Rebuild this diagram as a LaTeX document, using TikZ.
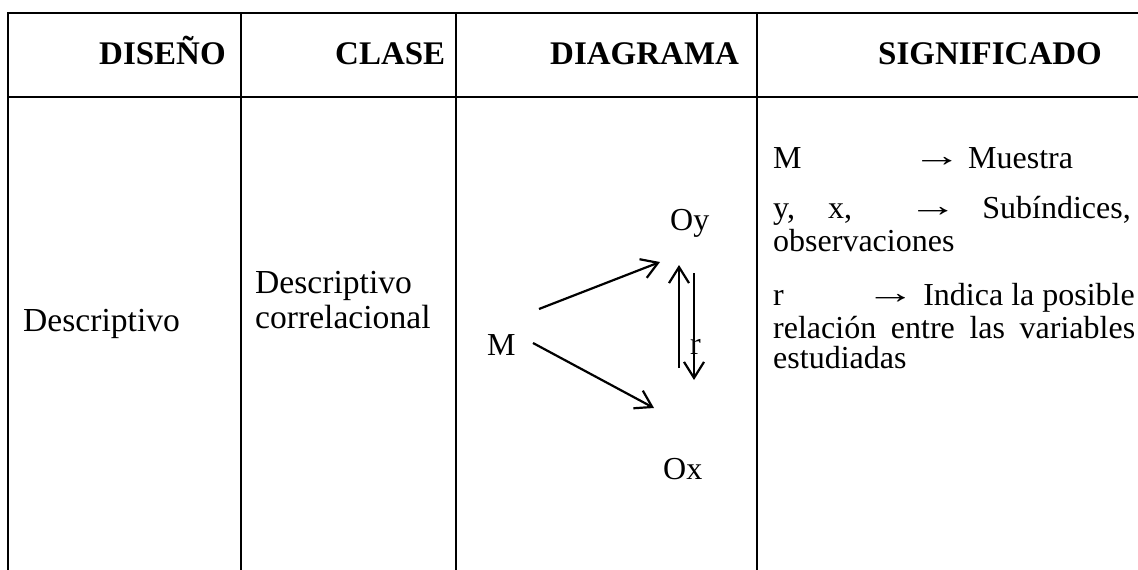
\documentclass[tikz,border=0pt]{standalone}
\usepackage{fontspec}
\usepackage{graphicx}
\setmainfont{Liberation Serif}
\usetikzlibrary{arrows.meta}
% a long, thin arrow glyph
\newcommand{\longarr}{\raisebox{2pt}{\scalebox{1.55}[1.0]{→}}}
\begin{document}
\begin{tikzpicture}[x=1pt,y=-1pt,
  rule/.style={line width=2pt,line cap=rect},
  txt/.style={inner sep=0pt,anchor=base west,font=\fontsize{32}{33}\selectfont},
  big/.style={txt,font=\fontsize{33.6}{35}\selectfont},
  txtr/.style={txt,anchor=base east},
  head/.style={txt,font=\fontsize{33}{35}\selectfont\bfseries},
  link/.style={line width=2.2pt,-{Straight Barb[length=16pt,width=20pt,line width=2.2pt]}}]
\useasboundingbox (0,0) rectangle (1138,570);

% table rules
\draw[rule] (8,13) -- (1138,13);
\draw[rule] (8,97) -- (1138,97);
\foreach \cx in {8,241,456,757}
  \draw[rule] (\cx,13) -- (\cx,572);

% header row
\node[head] (hdis) at (99,64) {DISEÑO};
\node[head] (hcla) at (335,64) {CLASE};
\node[head] (hdia) at (550,64) {DIAGRAMA};
\node[head] (hsig) at (878,64) {SIGNIFICADO};

% design and class
\node[big] (dis) at (23,331) {Descriptivo};
\node[big] (cla1) at (255,293) {Descriptivo};
\node[big] (cla2) at (255,328) {correlacional};

% diagram
\node[txt] (m) at (487,355) {M};
\node[txt] (oy) at (670,230) {Oy};
\node[txt] (ox) at (663,479) {Ox};
\node[txt] (r) at (690,354) {r};
\coordinate (mup) at (539,309);
\coordinate (mdn) at (533,343);
\coordinate (oyin) at (660,262);
\coordinate (oxin) at (654,408);
\coordinate (upb) at (679,368);
\coordinate (upt) at (679,265);
\coordinate (dnt) at (694,273);
\coordinate (dnb) at (694,380);
\draw[link] (mup) -- (oyin);
\draw[link] (mdn) -- (oxin);
\draw[link] (upb) -- (upt);
\draw[link] (dnt) -- (dnb);

% meaning
\node[txt] (s1a) at (773,168) {M};
\node[txt] (s1b) at (912,168) {\longarr};
\node[txt] (s1c) at (968,168) {Muestra};
\node[txt] (s2a) at (773,218) {y,};
\node[txt] (s2b) at (828,218) {x,};
\node[txt] (s2c) at (908,218) {\longarr};
\node[txtr] (s2d) at (1131,218) {Subíndices,};
\node[txt] (s3) at (773,251) {observaciones};
\node[txt] (s4a) at (773,305) {r};
\node[txtr] (s4b) at (1135,305) {\longarr{} Indica la posible};
\node[txt] (s5) at (773,338) {\makebox[362pt][s]{relación entre las variables}};
\node[txt] (s6) at (773,368) {estudiadas};
\end{tikzpicture}
\end{document}
